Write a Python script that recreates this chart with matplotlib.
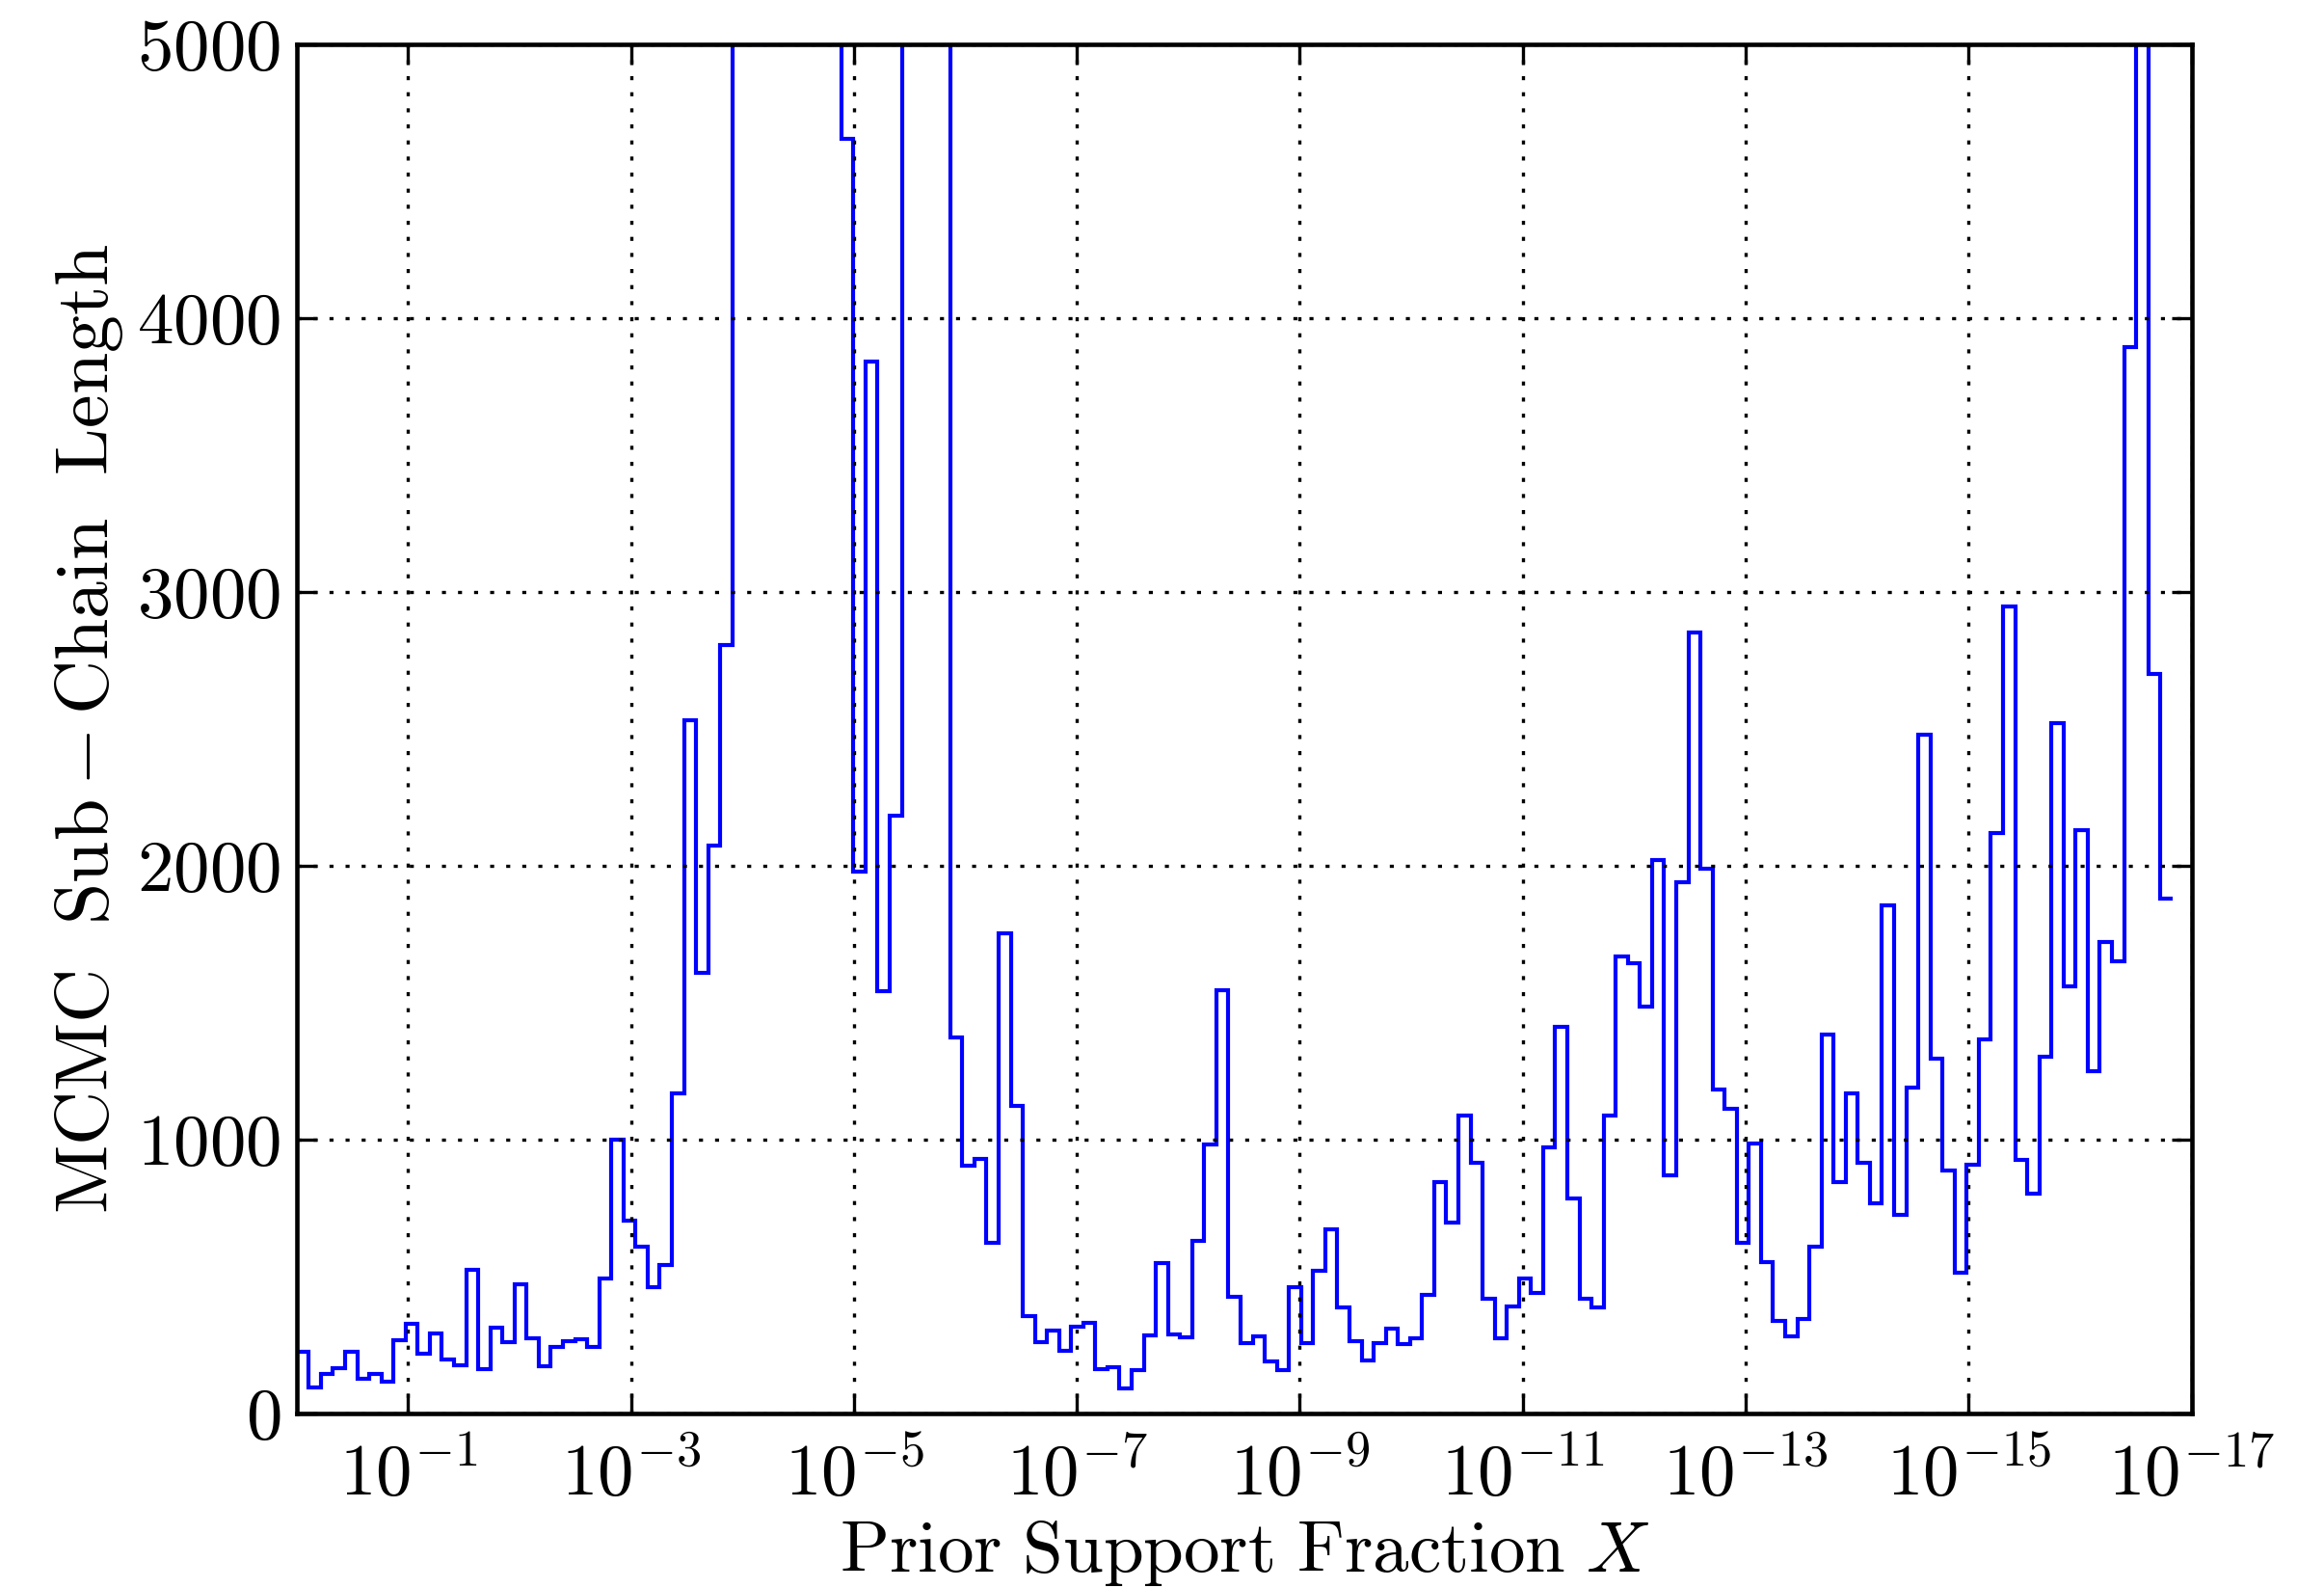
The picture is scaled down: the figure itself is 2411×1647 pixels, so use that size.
import numpy as np
import matplotlib
matplotlib.use('Agg')
import matplotlib.pyplot as plt
from matplotlib.ticker import NullLocator, LogFormatterMathtext

# bins are 0.25 wide in ln(X), starting at X = 1
ln_bin_width = 0.25

chain_length = [
    225, 95, 144, 164, 223, 126, 144, 115, 266, 325,
    216, 290, 196, 173, 523, 161, 313, 258, 470, 274,
    171, 242, 261, 271, 242, 493, 1000, 703, 606, 458,
    542, 1168, 2532, 1606, 2071, 2806, 5000, 5000, 5000, 5000,
    5000, 5000, 5000, 5000, 5000, 4655, 1977, 3839, 1542, 2181,
    5000, 5000, 5000, 5000, 1371, 903, 929, 622, 1751, 1122,
    355, 258, 300, 226, 316, 331, 161, 168, 90, 155,
    284, 548, 287, 275, 629, 982, 1543, 424, 257, 280,
    187, 158, 461, 257, 520, 672, 385, 263, 193, 257,
    309, 251, 274, 431, 843, 697, 1085, 915, 419, 274,
    390, 492, 438, 971, 1412, 782, 419, 387, 1085, 1668,
    1643, 1485, 2020, 869, 1939, 2851, 1987, 1183, 1110, 621,
    984, 550, 336, 279, 342, 606, 1381, 843, 1166, 914,
    765, 1853, 722, 1189, 2477, 1295, 885, 513, 908, 1366,
    2117, 2947, 923, 800, 1303, 2520, 1558, 2129, 1250, 1720,
    1650, 3895, 5000, 2700, 1880,
]

x_tick_exponents = [-1, -3, -5, -7, -9, -11, -13, -15, -17]
y_ticks = [0, 1000, 2000, 3000, 4000, 5000]

plt.rcParams['font.family'] = 'serif'
plt.rcParams['font.serif'] = ['cmr10']
plt.rcParams['mathtext.fontset'] = 'cm'
plt.rcParams['axes.formatter.use_mathtext'] = True
plt.rcParams['axes.unicode_minus'] = True

fig = plt.figure(figsize=(8.04, 5.49), dpi=300)
ax = fig.add_axes([0.1276, 0.1102, 0.815, 0.862])

n_bins = len(chain_length)
bin_edges = np.exp(-ln_bin_width * np.arange(n_bins + 1))
ax.stairs(chain_length, bin_edges, baseline=None, color='#0000ff', lw=1.0)

ax.set_xscale('log')
ax.set_xlim(1, 1e-17)
ax.set_ylim(0, 5000)
ax.set_xticks([10.0 ** e for e in x_tick_exponents])
ax.xaxis.set_major_formatter(LogFormatterMathtext())
ax.xaxis.set_minor_locator(NullLocator())
ax.set_yticks(y_ticks)

ax.grid(True, color='k', linestyle=(0, (1.25, 3.75)), linewidth=0.8)
ax.tick_params(direction='in', top=True, right=True, length=5, width=0.8,
               labelsize=18)
ax.tick_params(axis='x', pad=7)
ax.tick_params(axis='y', pad=4)
for s in ax.spines.values():
    s.set_linewidth(1.1)

ax.set_xlabel(r'$\mathrm{Prior\ Support\ Fraction}\ X$', fontsize=18, labelpad=2)
ax.set_ylabel(r'$\mathrm{MCMC\ \ Sub-Chain\ \ Length}$', fontsize=18.7, labelpad=3)

fig.savefig('out.png', dpi=300)
